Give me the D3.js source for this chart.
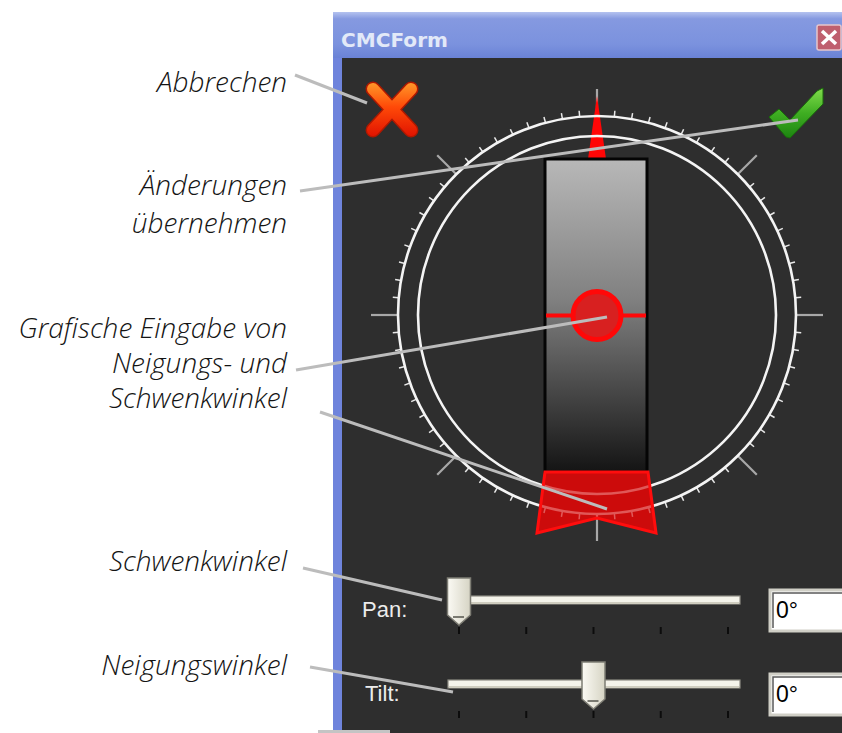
<!DOCTYPE html>
<html lang="de">
<head>
<meta charset="UTF-8">
<title>CMCForm</title>
<script src="https://d3js.org/d3.v7.min.js"></script>
<style>
  body { margin: 0; background: #fff; }
  svg { display: block; }
  .note { font-family: "Open Sans", sans-serif; font-style: italic; font-weight: 300; font-size: 28px; fill: #141414; }
  .ui { font-family: "Liberation Sans", Arial, sans-serif; }
</style>
</head>
<body>
<svg width="842" height="733"></svg>
<script>
// callout texts, one entry per callout, lines top to bottom
const calloutLines = [
  ["Abbrechen"],
  ["Änderungen", "übernehmen"],
  ["Grafische Eingabe von", "Neigungs- und", "Schwenkwinkel"],
  ["Schwenkwinkel"],
  ["Neigungswinkel"]
];
const windowTitle = "CMCForm";
const sliderNames = ["Pan:", "Tilt:"];
const sliderValues = [0, 0];          // pan, tilt in degrees
const sliderReadouts = ["0°", "0°"];
const panDomain = [0, 360];
const tiltDomain = [-90, 90];
const sliderTickCount = 5;
const compassStep = 5;                // degrees between small ticks
const compassMajor = 45;              // degrees between long ticks

// layout
const cx = 597, cy = 315;
const rOuter = 199, rInner = 179;
const bar = { x0: 545, x1: 647, y0: 159, y1: 472 };
const calloutRight = 287;
const calloutBase = [92, 195, 338, 571, 675];
const calloutStep = [0, 38, 35, 0, 0];
const leaders = [
  [295, 75, 367, 103],
  [300, 191, 798, 120],
  [296, 370, 607, 317],
  [320, 412, 607, 509],
  [303, 568, 442, 600],
  [310, 667, 453, 692]
];
const sliderRows = [600, 684];        // track centre y

const svg = d3.select("svg");
const defs = svg.append("defs");

function grad(id, stops, x1, y1, x2, y2, units) {
  const g = defs.append("linearGradient").attr("id", id)
    .attr("gradientUnits", units || "userSpaceOnUse")
    .attr("x1", x1).attr("y1", y1).attr("x2", x2).attr("y2", y2);
  stops.forEach(([o, c]) => g.append("stop").attr("offset", o).attr("stop-color", c));
}
grad("titleGrad", [[0, "#b4c2ef"], [0.15, "#8599e0"], [0.7, "#7b92de"], [1, "#6a82d6"]], 0, 12, 0, 58);
grad("barGrad", [[0, "#b8b8b8"], [0.45, "#808080"], [0.8, "#3c3c3c"], [1, "#141414"]], 0, bar.y0, 0, bar.y1);
grad("xGrad", [[0, "#ff9a2a"], [0.45, "#ff4a08"], [1, "#e01200"]], 0, 82, 0, 137);
grad("checkGrad", [[0, "#82dc4c"], [0.5, "#3fae22"], [1, "#1c8410"]], 0, 88, 0, 138);
grad("thumbGrad", [[0, "#fbfaf4"], [1, "#d6d4c4"]], 0, 0, 1, 0, "objectBoundingBox");

// window frame
svg.append("rect").attr("x", 333).attr("y", 12).attr("width", 509).attr("height", 721).attr("fill", "#6f84dc");
svg.append("rect").attr("x", 342).attr("y", 58).attr("width", 500).attr("height", 675).attr("fill", "#2e2e2e");
svg.append("rect").attr("x", 333).attr("y", 12).attr("width", 509).attr("height", 46).attr("fill", "url(#titleGrad)");
svg.append("text").attr("x", 341).attr("y", 47)
  .attr("font-family", "DejaVu Sans").attr("font-weight", "bold").attr("font-size", 19)
  .attr("textLength", 107).attr("lengthAdjust", "spacingAndGlyphs")
  .attr("fill", "#e2e9f8").text(windowTitle);

// close button
svg.append("rect").attr("x", 817).attr("y", 25).attr("width", 24).attr("height", 25).attr("rx", 2)
  .attr("fill", "#bf5f6e").attr("stroke", "#e6c6cc").attr("stroke-width", 1.5);
[[822, 31, 836, 44], [836, 31, 822, 44]].forEach(l =>
  svg.append("line").attr("x1", l[0]).attr("y1", l[1]).attr("x2", l[2]).attr("y2", l[3])
    .attr("stroke", "#fff").attr("stroke-width", 3.5));

// cancel icon
const xArms = [[373, 89, 411, 130], [411, 89, 373, 130]];
[["#b01800", 15], ["url(#xGrad)", 12]].forEach(([c, w]) => xArms.forEach(l =>
  svg.append("line").attr("x1", l[0]).attr("y1", l[1]).attr("x2", l[2]).attr("y2", l[3])
    .attr("stroke", c).attr("stroke-width", w).attr("stroke-linecap", "round")));

// ok icon
svg.append("path")
  .attr("d", "M769,117 L779,109 L790,120 L817,91 L823,88 L823,104 L790,138 L786,137 Z")
  .attr("fill", "url(#checkGrad)").attr("stroke", "#1a6a0c").attr("stroke-width", 1);

// compass
const angle = d3.scaleLinear().domain(panDomain).range([0, 2 * Math.PI]);
const tiltY = d3.scaleLinear().domain(tiltDomain).range([bar.y1, bar.y0]);
const px = (a, r) => cx + r * Math.sin(angle(a));
const py = (a, r) => cy - r * Math.cos(angle(a));
const degs = d3.range(panDomain[0], panDomain[1], compassStep);

function drawTicks(g, tickColor, majorColor) {
  g.selectAll("line.minor").data(degs.filter(d => d % compassMajor !== 0)).join("line")
    .attr("class", "minor")
    .attr("x1", d => px(d, rOuter)).attr("y1", d => py(d, rOuter))
    .attr("x2", d => px(d, rOuter + 6)).attr("y2", d => py(d, rOuter + 6))
    .attr("stroke", tickColor).attr("stroke-width", 1.5);
  g.selectAll("line.major").data(degs.filter(d => d % compassMajor === 0)).join("line")
    .attr("class", "major")
    .attr("x1", d => px(d, rOuter)).attr("y1", d => py(d, rOuter))
    .attr("x2", d => px(d, rOuter + 27)).attr("y2", d => py(d, rOuter + 27))
    .attr("stroke", majorColor).attr("stroke-width", 2.2);
}
function drawRings(g, ringColor) {
  g.selectAll("circle").data([rOuter, rInner]).join("circle")
    .attr("cx", cx).attr("cy", cy).attr("r", d => d)
    .attr("fill", "none").attr("stroke", ringColor).attr("stroke-width", 2.6);
}

drawTicks(svg.append("g"), "#e8e8e8", "#a8a8a8");

// pan needle
const needleA = sliderValues[0];
svg.append("path")
  .attr("d", `M${px(needleA, 219)},${py(needleA, 219)} L${cx + 9},${bar.y0} L${cx - 9},${bar.y0} Z`)
  .attr("fill", "#ff0606");
drawRings(svg.append("g"), "#f4f4f4");

// tilt bar
svg.append("rect").attr("x", bar.x0).attr("y", bar.y0)
  .attr("width", bar.x1 - bar.x0).attr("height", bar.y1 - bar.y0)
  .attr("fill", "url(#barGrad)").attr("stroke", "#050505").attr("stroke-width", 3);

// lower red marker with the ring showing through
const markerPts = [[bar.x0, bar.y1], [bar.x1 + 1, bar.y1], [656, 533], [cx, 518], [537, 533]];
const markerD = "M" + markerPts.map(p => p.join(",")).join("L") + "Z";
defs.append("clipPath").attr("id", "markerClip").append("path").attr("d", markerD);
svg.append("path").attr("d", markerD).attr("fill", "#cc0c0c");
const ghost = svg.append("g").attr("clip-path", "url(#markerClip)").attr("opacity", 0.4);
drawTicks(ghost, "#ffd0d0", "#ffd0d0");
drawRings(ghost, "#ffc8c8");
svg.append("path").attr("d", markerD).attr("fill", "none")
  .attr("stroke", "#ff0d0d").attr("stroke-width", 3);

// tilt indicator
const ty = tiltY(sliderValues[1]);
svg.append("line").attr("x1", bar.x0 + 1).attr("x2", bar.x1 - 1).attr("y1", ty).attr("y2", ty)
  .attr("stroke", "#ff0808").attr("stroke-width", 4);
svg.append("circle").attr("cx", cx).attr("cy", ty).attr("r", 24)
  .attr("fill", "#d82020").attr("stroke", "#ff0808").attr("stroke-width", 5);

// sliders
const sliderX = [
  d3.scaleLinear().domain(panDomain).range([459, 728]),
  d3.scaleLinear().domain(tiltDomain).range([459, 728])
];
sliderRows.forEach((yc, i) => {
  const sx = sliderX[i];
  const dom = sx.domain();
  const g = svg.append("g");
  g.append("text").attr("class", "ui").attr("x", i ? 365 : 362).attr("y", yc + 17)
    .attr("font-size", 22).attr("fill", "#ececec").text(sliderNames[i]);
  g.append("rect").attr("x", 448).attr("y", yc - 4).attr("width", 292).attr("height", 8)
    .attr("fill", "#f4f3ea").attr("stroke", "#8e8d84").attr("stroke-width", 1.2);
  g.append("line").attr("x1", 449).attr("x2", 739).attr("y1", yc + 3).attr("y2", yc + 3)
    .attr("stroke", "#cfcdbf").attr("stroke-width", 2);
  const ticks = d3.range(sliderTickCount).map(k => dom[0] + k * (dom[1] - dom[0]) / (sliderTickCount - 1));
  g.selectAll("line.tick").data(ticks).join("line").attr("class", "tick")
    .attr("x1", d => sx(d)).attr("x2", d => sx(d))
    .attr("y1", yc + 27).attr("y2", yc + 34)
    .attr("stroke", "#0c0c0c").attr("stroke-width", 2);
  const tx = sx(sliderValues[i]);
  const t0 = yc - 22;
  g.append("path")
    .attr("d", `M${tx - 11.5},${t0} h23 v37 l-11.5,10 l-11.5,-10 Z`)
    .attr("fill", "url(#thumbGrad)").attr("stroke", "#7e7d74").attr("stroke-width", 1.5);
  g.append("line").attr("x1", tx - 6).attr("x2", tx + 5).attr("y1", t0 + 39).attr("y2", t0 + 39)
    .attr("stroke", "#55544c").attr("stroke-width", 1.5);
  // readout box
  g.append("rect").attr("x", 770).attr("y", yc - 10).attr("width", 80).attr("height", 41)
    .attr("fill", "#fff").attr("stroke", "#d0cfc6").attr("stroke-width", 3);
  g.append("path").attr("d", `M773,${yc + 28} V${yc - 7} H842`)
    .attr("fill", "none").attr("stroke", "#5a5a5a").attr("stroke-width", 1.5);
  g.append("text").attr("class", "ui").attr("x", 776).attr("y", yc + 18)
    .attr("font-size", 23).attr("fill", "#000").text(sliderReadouts[i]);
});

// callouts
calloutLines.forEach((lines, i) => {
  const t = svg.append("text").attr("class", "note").attr("text-anchor", "end");
  lines.forEach((s, k) => t.append("tspan").attr("x", calloutRight)
    .attr("y", calloutBase[i] + k * calloutStep[i]).text(s));
});
svg.selectAll("line.leader").data(leaders).join("line").attr("class", "leader")
  .attr("x1", d => d[0]).attr("y1", d => d[1]).attr("x2", d => d[2]).attr("y2", d => d[3])
  .attr("stroke", "#bcbcbc").attr("stroke-width", 3);

svg.append("rect").attr("x", 318).attr("y", 730).attr("width", 72).attr("height", 3).attr("fill", "#c4c4c4");
</script>
</body>
</html>
